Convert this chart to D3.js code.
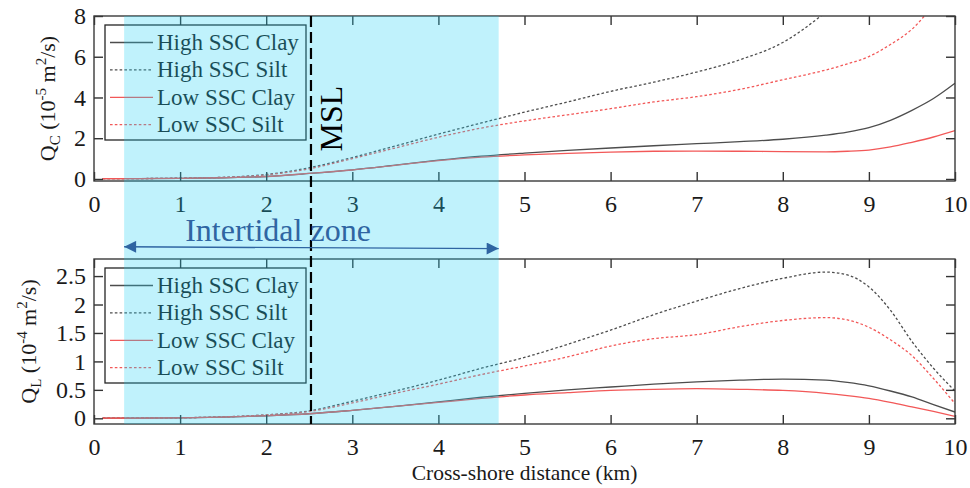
<!DOCTYPE html>
<html><head><meta charset="utf-8">
<script src="https://cdn.jsdelivr.net/npm/d3@7/dist/d3.min.js"></script>
<style>
html,body{margin:0;padding:0;background:#fff;}
svg{display:block;font-family:"Liberation Serif","Times New Roman",serif;}
</style></head>
<body>
<svg id="c" width="970" height="488"></svg>
<script>
// ---------- data ----------
const xs = [0.1, 0.5, 1, 1.5, 2, 2.5, 3, 3.5, 4, 4.5, 5, 5.5, 6, 6.5, 7, 7.5, 8, 8.5, 8.75, 9, 9.25, 9.5, 9.75, 10];
// Q_C (1e-5 m2/s)
const qcHighClay = [0.02,0.02,0.03,0.06,0.12,0.27,0.45,0.68,0.92,1.12,1.27,1.40,1.52,1.63,1.73,1.83,1.95,2.15,2.30,2.52,2.88,3.37,3.95,4.70];
const qcHighSilt = [0.02,0.02,0.04,0.08,0.22,0.55,1.05,1.62,2.20,2.75,3.28,3.78,4.30,4.75,5.25,5.85,6.70,8.20,9.10,10.1,11.2,12.4,13.7,15.0];
const qcLowClay  = [0.02,0.02,0.03,0.06,0.12,0.27,0.44,0.67,0.90,1.07,1.18,1.26,1.32,1.36,1.37,1.36,1.34,1.33,1.36,1.42,1.57,1.80,2.06,2.37];
const qcLowSilt  = [0.02,0.02,0.04,0.08,0.20,0.50,1.00,1.52,2.05,2.50,2.85,3.15,3.45,3.78,4.04,4.40,4.87,5.35,5.65,6.01,6.60,7.35,8.50,9.60];
// Q_L (1e-4 m2/s)
const qlHighClay = [0.005,0.005,0.008,0.02,0.045,0.08,0.14,0.21,0.29,0.37,0.44,0.50,0.55,0.60,0.64,0.67,0.69,0.67,0.63,0.57,0.48,0.375,0.24,0.11];
const qlHighSilt = [0.005,0.005,0.01,0.025,0.06,0.13,0.30,0.48,0.67,0.88,1.07,1.30,1.55,1.82,2.06,2.28,2.46,2.57,2.52,2.31,1.90,1.35,0.88,0.48];
const qlLowClay  = [0.005,0.005,0.008,0.02,0.045,0.08,0.14,0.21,0.28,0.35,0.41,0.45,0.49,0.51,0.52,0.51,0.49,0.44,0.40,0.35,0.28,0.20,0.12,0.035];
const qlLowSilt  = [0.005,0.005,0.01,0.025,0.06,0.12,0.27,0.44,0.60,0.77,0.92,1.08,1.27,1.40,1.47,1.61,1.72,1.77,1.73,1.60,1.38,1.10,0.70,0.26];

const seriesNames = ["High SSC Clay", "High SSC Silt", "Low SSC Clay", "Low SSC Silt"];
const xTicks = [0,1,2,3,4,5,6,7,8,9,10];
const qcTicks = [0,2,4,6,8];
const qlTicks = [0,0.5,1,1.5,2,2.5];
const intertidal = [0.35, 4.7];
const mslX = [2.52];
const texts = {msl:"MSL", zone:"Intertidal zone", xlabel:"Cross-shore distance (km)"};

// ---------- styling ----------
const GRAY = "#4d4d4d", RED = "#f25858";
const styles = [
  {color:GRAY, dash:null},
  {color:GRAY, dash:"2.6,2.2"},
  {color:RED,  dash:null},
  {color:RED,  dash:"2.6,2.2"}
];

const svg = d3.select("#c");
const L = 94, R = 955;
const x = d3.scaleLinear().domain([0,10]).range([L,R]);

const panels = [
  {top:16, bottom:181, domain:[-0.1,8], ticks:qcTicks, data:[qcHighClay,qcHighSilt,qcLowClay,qcLowSilt],
   label:{sub:"C", exp:"-5", x:55}, fmt:d3.format("d")},
  {top:259, bottom:424, domain:[-0.1,2.8], ticks:qlTicks, data:[qlHighClay,qlHighSilt,qlLowClay,qlLowSilt],
   label:{sub:"L", exp:"-4", x:36}, fmt:(d)=>String(d)}
];

const base = svg.append("g");
panels.forEach((p,pi)=>{
  const y = d3.scaleLinear().domain(p.domain).range([p.bottom,p.top]);
  const g = base.append("g");
  const cid = "clip"+pi;
  svg.append("defs").append("clipPath").attr("id",cid)
    .append("rect").attr("x",L).attr("y",p.top).attr("width",R-L).attr("height",p.bottom-p.top);

  // lines
  const line = d3.line().x((d,i)=>x(xs[i])).y(d=>y(d)).curve(d3.curveMonotoneX);
  const lg = g.append("g").attr("clip-path",`url(#${cid})`);
  p.data.forEach((arr,si)=>{
    lg.append("path").attr("d",line(arr)).attr("fill","none")
      .attr("stroke",styles[si].color).attr("stroke-width",1.3)
      .attr("stroke-dasharray",styles[si].dash);
  });

  // axes
  const axB = g.append("g").attr("transform",`translate(0,${p.bottom})`)
    .call(d3.axisBottom(x).tickValues(xTicks).tickSize(-9).tickSizeOuter(0).tickPadding(14).tickFormat(d3.format("d")));
  const axT = g.append("g").attr("transform",`translate(0,${p.top})`)
    .call(d3.axisTop(x).tickValues(xTicks).tickSize(-9).tickSizeOuter(0).tickFormat(""));
  const axLft = g.append("g").attr("transform",`translate(${L},0)`)
    .call(d3.axisLeft(y).tickValues(p.ticks).tickSize(-9).tickSizeOuter(0).tickPadding(8).tickFormat(p.fmt));
  const axRgt = g.append("g").attr("transform",`translate(${R},0)`)
    .call(d3.axisRight(y).tickValues(p.ticks).tickSize(-9).tickSizeOuter(0).tickFormat(""));
  [axB,axT,axLft,axRgt].forEach(a=>{
    a.select(".domain").remove();
    a.selectAll("line").attr("stroke","#333").attr("stroke-width",1.4);
    a.selectAll("text").attr("font-family","Liberation Serif").attr("font-size",24).attr("fill","#1a1a1a");
  });
  g.append("rect").attr("x",L).attr("y",p.top).attr("width",R-L).attr("height",p.bottom-p.top)
    .attr("fill","none").attr("stroke","#3a3a3a").attr("stroke-width",1.4);

  // y label
  const cy = (p.top+p.bottom)/2;
  const t = g.append("text").attr("transform",`translate(${p.label.x},${cy}) rotate(-90)`)
    .attr("text-anchor","middle").attr("font-size",22).attr("fill","#1a1a1a");
  t.append("tspan").text("Q");
  t.append("tspan").attr("font-size",15).attr("dy",5).text(p.label.sub);
  t.append("tspan").attr("dy",-5).text(" (10");
  t.append("tspan").attr("font-size",15).attr("dy",-9).text(p.label.exp);
  t.append("tspan").attr("dy",9).text(" m");
  t.append("tspan").attr("font-size",15).attr("dy",-9).text("2");
  t.append("tspan").attr("dy",9).text("/s)");

  // legend
  const lx = 105, ly = p.top + 9;
  g.append("rect").attr("x",lx).attr("y",ly).attr("width",201).attr("height",115)
    .attr("fill","none").attr("stroke","#262626").attr("stroke-width",1.3);
  seriesNames.forEach((n,si)=>{
    const yy = ly + 17.5 + si*27.4;
    g.append("line").attr("x1",110).attr("x2",153).attr("y1",yy).attr("y2",yy)
      .attr("stroke",styles[si].color).attr("stroke-width",1.3).attr("stroke-dasharray",styles[si].dash);
    g.append("text").attr("x",157).attr("y",yy).attr("dy","0.33em")
      .attr("font-size",23).attr("fill","#1a1a1a").text(n);
  });
});

// x label
svg.append("text").attr("x",(L+R)/2).attr("y",480).attr("text-anchor","middle")
  .attr("font-size",21.5).attr("fill","#1a1a1a").text(texts.xlabel);

// intertidal band (translucent overlay)
svg.append("rect").attr("x",x(intertidal[0])).attr("y",16)
  .attr("width",x(intertidal[1])-x(intertidal[0])).attr("height",424-16)
  .attr("fill","rgb(30,208,244)").attr("fill-opacity",0.28);

// MSL line and label
svg.append("line").attr("x1",x(mslX[0])).attr("x2",x(mslX[0])).attr("y1",16).attr("y2",424)
  .attr("stroke","#000").attr("stroke-width",2.2).attr("stroke-dasharray","11,5");
svg.append("text").attr("transform",`translate(342,118.5) rotate(-90)`).attr("text-anchor","middle")
  .attr("font-size",32).attr("fill","#000").text(texts.msl);

// intertidal arrow and text
const BLUE = "#2f65a2";
const defs = svg.append("defs");
defs.append("marker").attr("id","ah").attr("viewBox","0 0 10 10").attr("refX",10).attr("refY",5)
  .attr("markerWidth",13).attr("markerHeight",12).attr("markerUnits","userSpaceOnUse").attr("orient","auto-start-reverse")
  .append("path").attr("d","M0,0L10,5L0,10Z").attr("fill",BLUE);
svg.append("line").attr("x1",x(intertidal[0])).attr("x2",x(intertidal[1])).attr("y1",246.8).attr("y2",248.6)
  .attr("stroke",BLUE).attr("stroke-width",1.4)
  .attr("marker-start","url(#ah)").attr("marker-end","url(#ah)");
svg.append("text").attr("x",278).attr("y",241).attr("text-anchor","middle")
  .attr("font-size",32).attr("fill",BLUE).text(texts.zone);
</script>
</body></html>
